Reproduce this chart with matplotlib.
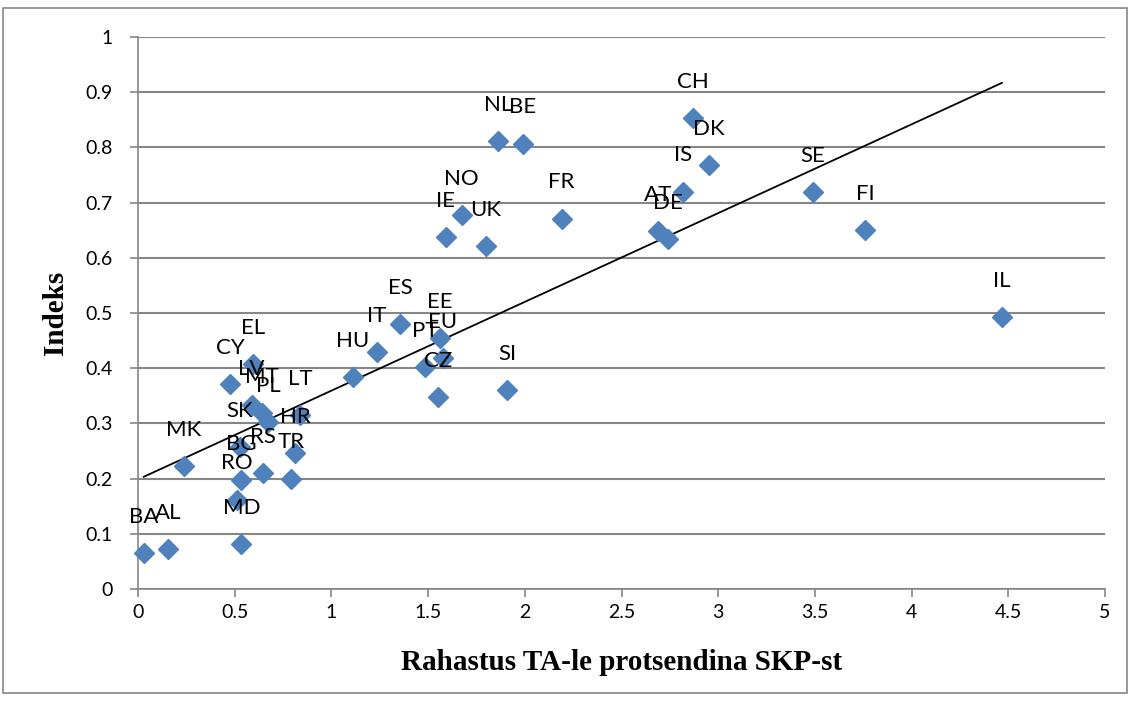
import numpy as np
import matplotlib
matplotlib.use('Agg')
from matplotlib import pyplot as plt
from matplotlib.patches import Rectangle

# riikide lühendid, rahastus (% SKP) ja indeks
countries = ['BA', 'AL', 'MD', 'RO', 'BG', 'MK', 'SK', 'RS', 'TR', 'HR',
             'LT', 'PL', 'MT', 'LV', 'CY', 'EL', 'HU', 'IT', 'ES', 'PT',
             'EE', 'EU', 'CZ', 'SI', 'NL', 'BE', 'NO', 'IE', 'UK', 'FR',
             'CH', 'DK', 'IS', 'AT', 'DE', 'SE', 'FI', 'IL']
funding = [0.03, 0.155, 0.535, 0.51, 0.533, 0.238, 0.527, 0.648, 0.79, 0.813,
           0.838, 0.672, 0.64, 0.588, 0.476, 0.594, 1.11, 1.236, 1.355, 1.484,
           1.56, 1.577, 1.55, 1.908, 1.86, 1.99, 1.674, 1.59, 1.80, 2.19,
           2.871, 2.952, 2.82, 2.687, 2.739, 3.49, 3.759, 4.467]
index = [0.065, 0.072, 0.081, 0.162, 0.197, 0.223, 0.257, 0.210, 0.200, 0.247,
         0.315, 0.303, 0.319, 0.333, 0.371, 0.408, 0.384, 0.430, 0.480, 0.402,
         0.455, 0.418, 0.347, 0.360, 0.811, 0.807, 0.678, 0.638, 0.622, 0.671,
         0.853, 0.768, 0.720, 0.648, 0.634, 0.719, 0.650, 0.493]

x_ticks = [0, 0.5, 1, 1.5, 2, 2.5, 3, 3.5, 4, 4.5, 5]
x_tick_labels = ['0', '0.5', '1', '1.5', '2', '2.5', '3', '3.5', '4', '4.5', '5']
y_ticks = [0, 0.1, 0.2, 0.3, 0.4, 0.5, 0.6, 0.7, 0.8, 0.9, 1]
y_tick_labels = ['0', '0.1', '0.2', '0.3', '0.4', '0.5', '0.6', '0.7', '0.8', '0.9', '1']

grey = '#868686'
blue = '#4F81BD'

W, H = 1131, 705
fig = plt.figure(figsize=(W/100, H/100), dpi=100)
ax = fig.add_axes([138/W, 1-589/H, (1105-138)/W, (589-37)/H])

# raam ümber joonise
fig.patches.append(Rectangle((3/W, 1-693/H), (1127-3)/W, (693-8)/H, transform=fig.transFigure,
                             fill=False, edgecolor=grey, linewidth=1.2))

ax.set_xlim(0, 5)
ax.set_ylim(0, 1)
ax.set_xticks(x_ticks)
ax.set_xticklabels(x_tick_labels)
ax.set_yticks(y_ticks)
ax.set_yticklabels(y_tick_labels)
ax.grid(axis='y', color=grey, linewidth=1.5)
ax.set_axisbelow(True)
for s in ['top', 'right']:
    ax.spines[s].set_visible(False)
for s in ['left', 'bottom']:
    ax.spines[s].set_color(grey)
    ax.spines[s].set_linewidth(1.2)
ax.tick_params(axis='both', colors=grey, length=6, width=1.2, labelsize=14,
               labelcolor='black', labelfontfamily='Lato')
ax.tick_params(axis='y', pad=12)
ax.tick_params(axis='x', pad=5)

# lineaarne trend
x = np.array(funding)
y = np.array(index)
k, b = np.polyfit(x, y, 1)
xs = np.array([x.min(), x.max()])
ax.plot(xs, k*xs+b, color='black', linewidth=1.3, zorder=2)

ax.plot(funding, index, linestyle='none', marker='D', markersize=10,
        color=blue, zorder=3, clip_on=False)

for c, xv, yv in zip(countries, funding, index):
    ax.annotate(c, (xv, yv), xytext=(0, 26), textcoords='offset points',
                ha='center', va='center', fontsize=16, family='Lato', zorder=4)

ax.set_xlabel('Rahastus TA-le protsendina SKP-st', family='Liberation Serif',
              fontweight='bold', fontsize=21, labelpad=20)
ax.set_ylabel('Indeks', family='Liberation Serif', fontweight='bold',
              fontsize=21, labelpad=12)

fig.savefig('out.png', dpi=100)
